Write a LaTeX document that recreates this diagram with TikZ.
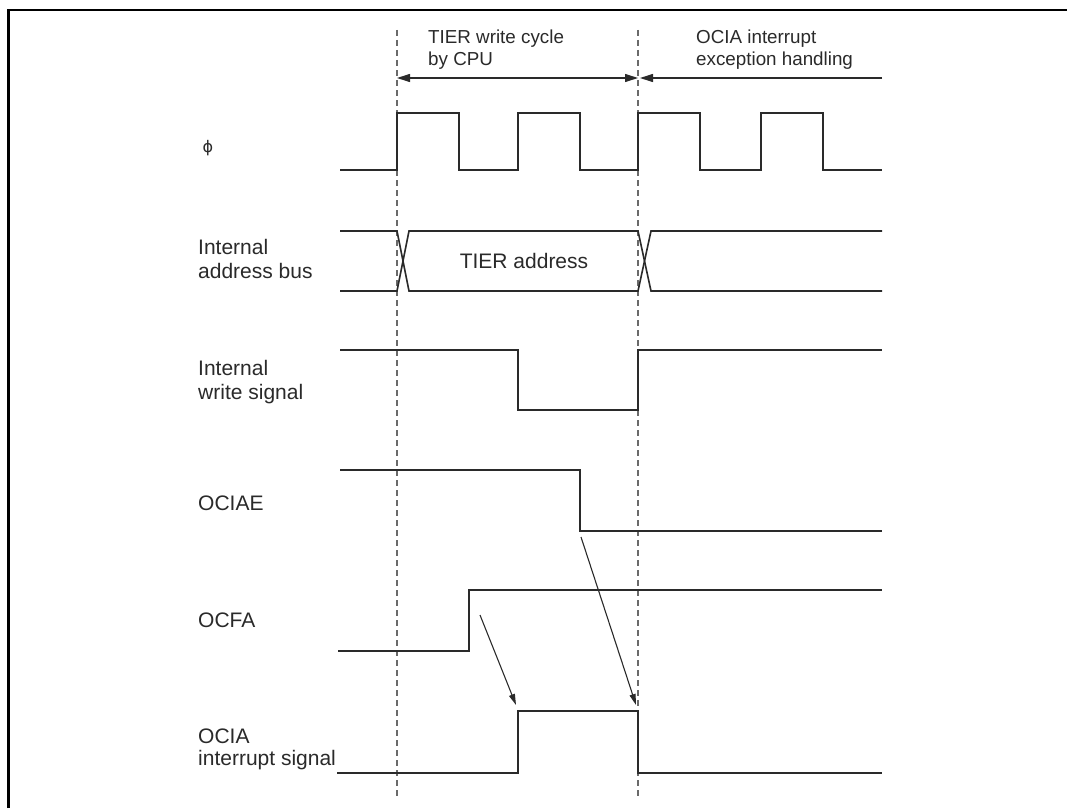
\documentclass[tikz,border=0pt]{standalone}
\usepackage{fontspec}
\setmainfont{Liberation Sans}
\newfontfamily\symfont{DejaVu Sans}
\usetikzlibrary{arrows.meta}
\definecolor{ink}{HTML}{2A2A2A}
\definecolor{dashgray}{HTML}{6A6A6A}
\begin{document}
\begin{tikzpicture}[x=1pt,y=-1pt,
  wave/.style={draw=ink,line width=1.6pt,line join=miter},
  guide/.style={draw=dashgray,line width=1.1pt,dash pattern=on 6pt off 4pt},
  span/.style={draw=ink,line width=1.1pt},
  bigtip/.style={-{Triangle[length=13pt,width=8pt]}},
  cause/.style={draw=ink,line width=1.1pt,-{Triangle[length=11pt,width=6pt]}},
  lbl/.style={anchor=base west,inner sep=0pt,align=left,text=ink,font=\fontsize{21}{24}\selectfont},
  toplbl/.style={anchor=base west,inner sep=0pt,align=left,text=ink,font=\fontsize{18.8}{21}\selectfont},
  txt/.style={inner sep=0pt,text=ink,font=\fontsize{21}{24}\selectfont}]
\useasboundingbox (0,0) rectangle (1067,808);
\fill[white] (0,0) rectangle (1067,808);
% frame (top and left edges visible)
\draw[line width=2.6pt,black] (8.3,808) -- (8.3,10) -- (1067,10);

% guide lines
\draw[guide] (397,30) -- (397,796);
\draw[guide] (638,30) -- (638,796);

% period labels
\node[toplbl] (lcpu) at (428,65) {TIER write cycle\\by CPU};
\node[toplbl] (lexc) at (696,65) {OCIA interrupt\\exception handling};
\coordinate (a1) at (397,78);
\coordinate (a2) at (638,78);
\coordinate (a3) at (640,78);
\coordinate (a4) at (882,78);
\draw[span,{Triangle[length=13pt,width=8pt]}-{Triangle[length=13pt,width=8pt]}] (a1) -- (a2);
\draw[span,bigtip] (a4) -- (a3);

% signal labels
\node[inner sep=0pt,text=ink,font=\symfont\fontsize{16}{18}\selectfont] (lphi) at (208,148) {ϕ};
\node[lbl] (laddr) at (198,278) {Internal\\address bus};
\node[lbl] (lwr) at (198,399) {Internal\\write signal};
\node[lbl] (lociae) at (198,510) {OCIAE};
\node[lbl] (locfa) at (198,627) {OCFA};
\node[lbl,font=\fontsize{21}{22}\selectfont] (locia) at (198,765) {OCIA\\interrupt signal};

% phi clock
\draw[wave] (340,170) -- (397,170) -- (397,113) -- (459,113) -- (459,170) -- (518,170) -- (518,113) -- (580,113) -- (580,170) -- (638,170) -- (638,113) -- (700,113) -- (700,170) -- (761,170) -- (761,113) -- (823,113) -- (823,170) -- (882,170);

% address bus
\draw[wave] (340,231) -- (397,231) -- (409,291) -- (638,291) -- (651,231) -- (882,231);
\draw[wave] (340,291) -- (397,291) -- (409,231) -- (638,231) -- (651,291) -- (882,291);
\node[txt] (addr) at (524,261) {TIER address};

% internal write signal
\draw[wave] (340,350) -- (518,350) -- (518,410) -- (638,410) -- (638,350) -- (882,350);

% OCIAE
\draw[wave] (340,470) -- (580,470) -- (580,531) -- (882,531);

% OCFA
\draw[wave] (338,651) -- (469,651) -- (469,590) -- (882,590);

% OCIA interrupt signal
\draw[wave] (337,773) -- (518,773) -- (518,711) -- (638,711) -- (638,773) -- (882,773);

% cause arrows
\coordinate (c1s) at (480,615);
\coordinate (c1e) at (516,705);
\coordinate (c2s) at (581,537);
\coordinate (c2e) at (636,705);
\draw[cause] (c1s) -- (c1e);
\draw[cause] (c2s) -- (c2e);
\end{tikzpicture}
\end{document}
